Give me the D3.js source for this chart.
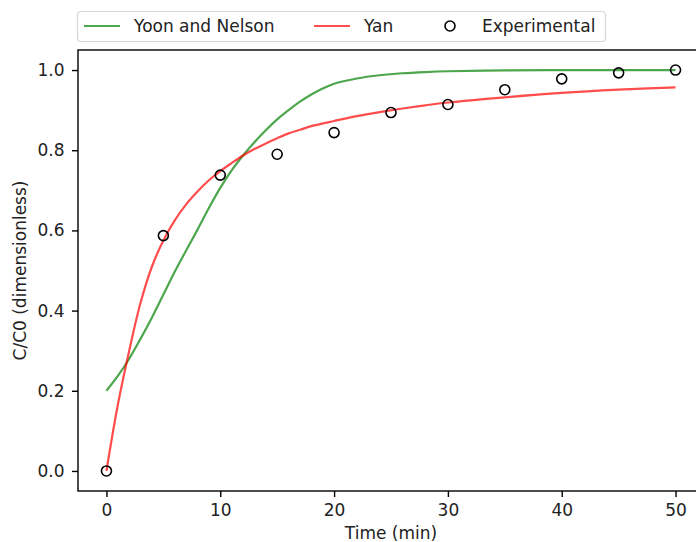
<!DOCTYPE html>
<html>
<head>
<meta charset="utf-8">
<script src="https://cdn.jsdelivr.net/npm/d3@7"></script>
<style>
  body { margin: 0; background: #fff; }
  svg { display: block; font-family: "DejaVu Sans", sans-serif; }
</style>
</head>
<body>
<div id="chart"></div>
<script>
// experimental points
const expTime = [0, 5, 10, 15, 20, 25, 30, 35, 40, 45, 50];
const expValue = [0.0, 0.587, 0.738, 0.790, 0.844, 0.894, 0.914, 0.951, 0.978, 0.993, 1.0];

// Yoon and Nelson fit
const ynTime = [0, 1, 2, 3, 4, 5, 6, 7, 8, 9, 10, 11, 12, 13, 14, 15, 16, 17, 18, 19, 20, 22, 24, 26, 28, 30, 35, 40, 45, 50];
const ynValue = [0.20, 0.237, 0.28, 0.33, 0.383, 0.44, 0.497, 0.55, 0.602, 0.656, 0.706, 0.75, 0.787, 0.82, 0.85, 0.877, 0.90, 0.921, 0.939, 0.954, 0.966, 0.979, 0.987, 0.992, 0.995, 0.997, 0.999, 1.0, 1.0, 1.0];

// Yan fit
const yanTime = [0, 1, 2, 3, 4, 5, 6, 7, 8, 9, 10, 11, 12, 13, 14, 15, 16, 17, 18, 20, 22, 24, 26, 28, 30, 35, 40, 45, 50];
const yanValue = [0.0, 0.165, 0.30, 0.42, 0.51, 0.575, 0.625, 0.665, 0.697, 0.725, 0.748, 0.768, 0.787, 0.803, 0.817, 0.83, 0.842, 0.851, 0.86, 0.873, 0.885, 0.895, 0.904, 0.912, 0.919, 0.932, 0.943, 0.951, 0.957];

const xTicks = [0, 10, 20, 30, 40, 50];
const yTicks = [0.0, 0.2, 0.4, 0.6, 0.8, 1.0];

const W = 696, H = 542;
const pLeft = 78, pTop = 50, pRight = 704, pBottom = 491;
const fs = "17px";

let svg = d3.select("#chart").append("svg")
  .attr("width", W)
  .attr("height", H);

const x = d3.scaleLinear().domain([-2.5, 52.5]).range([pLeft, pRight]);
const y = d3.scaleLinear().domain([-0.05, 1.05]).range([pBottom, pTop]);

// lines
const line = d3.line()
  .x(d => x(d[0]))
  .y(d => y(d[1]))
  .curve(d3.curveCatmullRom.alpha(0.5));

svg.append("path")
  .datum(d3.zip(ynTime, ynValue))
  .attr("d", line)
  .attr("fill", "none")
  .attr("stroke", "#008000")
  .attr("stroke-opacity", 0.7)
  .attr("stroke-width", 2.2);

svg.append("path")
  .datum(d3.zip(yanTime, yanValue))
  .attr("d", line)
  .attr("fill", "none")
  .attr("stroke", "#ff0000")
  .attr("stroke-opacity", 0.7)
  .attr("stroke-width", 2.2);

// markers
svg.selectAll("circle.exp")
  .data(d3.zip(expTime, expValue))
  .join("circle")
  .attr("class", "exp")
  .attr("cx", d => x(d[0]))
  .attr("cy", d => y(d[1]))
  .attr("r", 5)
  .attr("fill", "none")
  .attr("stroke", "#000")
  .attr("stroke-width", 1.6);

// axes
const xAxis = svg.append("g")
  .attr("transform", `translate(0,${pBottom})`)
  .call(d3.axisBottom(x).tickValues(xTicks).tickSize(6).tickPadding(6.5).tickFormat(d3.format("d")));
const yAxis = svg.append("g")
  .attr("transform", `translate(${pLeft},0)`)
  .call(d3.axisLeft(y).tickValues(yTicks).tickSize(6).tickPadding(7.5).tickFormat(d3.format(".1f")));

[xAxis, yAxis].forEach(g => {
  g.select(".domain").remove();
  g.selectAll("line").attr("stroke", "#000").attr("stroke-width", 1.4);
  g.selectAll("text").attr("fill", "#222").style("font-size", fs).style("font-family", "DejaVu Sans");
});

// spines
svg.append("rect")
  .attr("x", pLeft).attr("y", pTop)
  .attr("width", pRight - pLeft).attr("height", pBottom - pTop)
  .attr("fill", "none")
  .attr("stroke", "#000")
  .attr("stroke-width", 1.4);

// axis labels
svg.append("text")
  .attr("x", (pLeft + pRight) / 2)
  .attr("y", 539)
  .attr("text-anchor", "middle")
  .style("font-size", fs)
  .attr("fill", "#222")
  .text("Time (min)");

svg.append("text")
  .attr("transform", `translate(26,${(pTop + pBottom) / 2}) rotate(-90)`)
  .attr("text-anchor", "middle")
  .style("font-size", fs)
  .attr("fill", "#222")
  .text("C/C0 (dimensionless)");

// legend
const lg = svg.append("g");
lg.append("rect")
  .attr("x", 77.5).attr("y", 11.5)
  .attr("width", 528).attr("height", 30)
  .attr("rx", 3.5)
  .attr("fill", "#fff")
  .attr("fill-opacity", 0.8)
  .attr("stroke", "#d6d6d6")
  .attr("stroke-width", 1.2);

const legendItems = [
  { label: "Yoon and Nelson", kind: "line", color: "#008000", x0: 84 },
  { label: "Yan", kind: "line", color: "#ff0000", x0: 314 },
  { label: "Experimental", kind: "marker", color: "#000", x0: 432 }
];
const ly = 26;
legendItems.forEach(it => {
  if (it.kind === "line") {
    lg.append("line")
      .attr("x1", it.x0).attr("x2", it.x0 + 36)
      .attr("y1", ly).attr("y2", ly)
      .attr("stroke", it.color)
      .attr("stroke-opacity", 0.7)
      .attr("stroke-width", 2.2);
  } else {
    lg.append("circle")
      .attr("cx", it.x0 + 18).attr("cy", ly)
      .attr("r", 5)
      .attr("fill", "none")
      .attr("stroke", it.color)
      .attr("stroke-width", 1.6);
  }
  lg.append("text")
    .attr("x", it.x0 + 50)
    .attr("y", ly + 6)
    .style("font-size", fs)
    .attr("fill", "#222")
    .text(it.label);
});
</script>
</body>
</html>
